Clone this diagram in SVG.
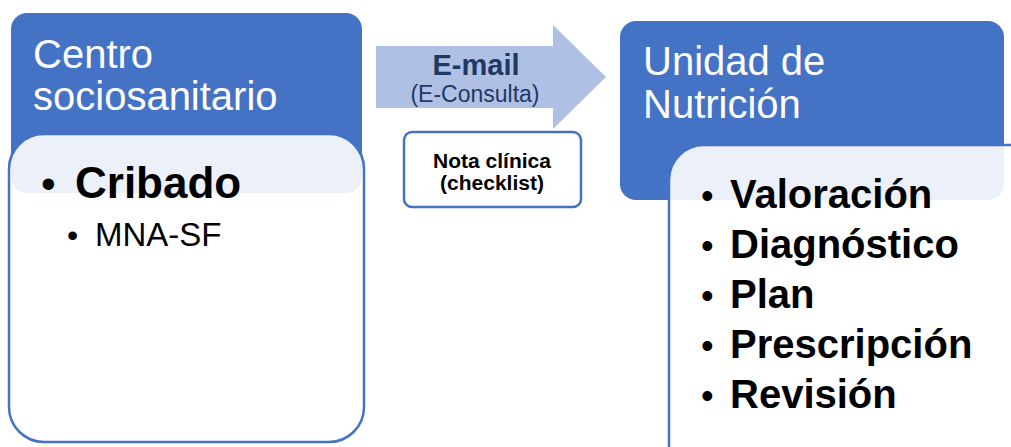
<svg xmlns="http://www.w3.org/2000/svg" width="1011" height="447" viewBox="0 0 1011 447">
<style>
.hdr{fill:#4472C4}
.card{fill:#ffffff;fill-opacity:0.9;stroke:#4472C4;stroke-width:2.5}
.ttl{font-family:"Liberation Sans",Arial,sans-serif;font-size:40px;fill:#ffffff}
.big{font-family:"Liberation Sans",Arial,sans-serif;font-weight:bold;fill:#000000}
.reg{font-family:"Liberation Sans",Arial,sans-serif;fill:#000000}
.nav{font-family:"Liberation Sans",Arial,sans-serif;fill:#1F3864}
.bl{font-family:"Liberation Sans",Arial,sans-serif;fill:#000000;font-size:36px}
</style>
<rect width="1011" height="447" fill="#ffffff"/>
<g id="centro">
  <rect class="hdr" x="11" y="13" width="351" height="180" rx="16"/>
  <text class="ttl" x="33" y="68">Centro</text>
  <text class="ttl" x="33" y="110">sociosanitario</text>
  <rect class="card" x="9" y="134" width="355" height="308" rx="35"/>
  <text class="reg" x="41" y="198" font-size="42">•</text>
  <text class="big" x="75" y="198" font-size="44">Cribado</text>
  <text class="reg" x="67" y="246" font-size="32">•</text>
  <text class="reg" x="95" y="246" font-size="33">MNA-SF</text>
</g>
<g id="connectors">
  <polygon points="376,46 553,46 553,25 606,77 553,129 553,108 376,108" fill="#B0C0E4"/>
  <text class="nav" x="476" y="75" font-size="29" font-weight="bold" text-anchor="middle">E-mail</text>
  <text class="nav" x="475" y="102" font-size="23" text-anchor="middle">(E-Consulta)</text>
</g>
<g id="nota">
  <rect x="404" y="132" width="177" height="75" rx="8" fill="#ffffff" stroke="#4472C4" stroke-width="2.5"/>
  <text class="big" x="492" y="168" font-size="21" text-anchor="middle">Nota clínica</text>
  <text class="big" x="492" y="190" font-size="21" text-anchor="middle">(checklist)</text>
</g>
<g id="unidad">
  <rect class="hdr" x="620" y="21" width="384" height="179" rx="16"/>
  <text class="ttl" x="643" y="75">Unidad de</text>
  <text class="ttl" x="643" y="118">Nutrición</text>
  <rect class="card" x="669" y="145" width="380" height="340" rx="35"/>
  <text class="bl" x="701" y="208">•</text>
  <text class="big" x="730" y="208" font-size="40">Valoración</text>
  <text class="bl" x="701" y="258">•</text>
  <text class="big" x="730" y="258" font-size="40">Diagnóstico</text>
  <text class="bl" x="701" y="308">•</text>
  <text class="big" x="730" y="308" font-size="40">Plan</text>
  <text class="bl" x="701" y="358">•</text>
  <text class="big" x="730" y="358" font-size="40">Prescripción</text>
  <text class="bl" x="701" y="408">•</text>
  <text class="big" x="730" y="408" font-size="40">Revisión</text>
</g>
</svg>
